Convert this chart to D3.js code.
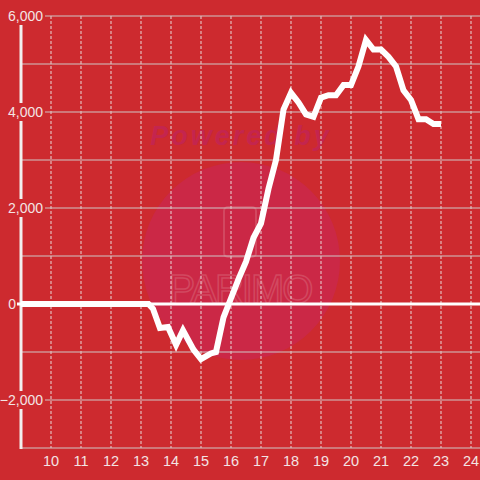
<!DOCTYPE html>
<html>
<head>
<meta charset="utf-8">
<script src="https://cdn.jsdelivr.net/npm/d3@7"></script>
<style>
  html, body { margin: 0; padding: 0; background: #cd2a2f; }
  svg { display: block; }
  text { font-family: "Liberation Sans", Arial, sans-serif; }
</style>
</head>
<body>
<script>
const width = 480;
const height = 480;

// hour of day / cumulative value
const hours = [9, 13.25, 13.4, 13.63, 13.9, 14.17, 14.4, 14.75, 15, 15.33, 15.5,
  15.75, 16, 16.25, 16.5, 16.75, 17, 17.25, 17.5, 17.75, 18, 18.25, 18.5, 18.75,
  19, 19.25, 19.5, 19.75, 20, 20.25, 20.5, 20.75, 21, 21.25, 21.5, 21.75, 22,
  22.25, 22.5, 22.75, 23];
const values = [0, 0, -100, -500, -480, -850, -550, -950, -1150, -1030, -1000,
  -280, 120, 520, 880, 1380, 1680, 2400, 3000, 4050, 4400, 4200, 3950, 3900,
  4300, 4350, 4350, 4560, 4560, 4950, 5500, 5300, 5300, 5150, 4950, 4450, 4250,
  3850, 3850, 3750, 3750];

const xTicks = [10, 11, 12, 13, 14, 15, 16, 17, 18, 19, 20, 21, 22, 23, 24];
const yGrid = [-2000, -1000, 1000, 2000, 3000, 4000, 5000, 6000];
const yLabels = [6000, 4000, 2000, 0, -2000];

const x = d3.scaleLinear().domain([9, 24.3]).range([21, 480]);
const y = d3.scaleLinear().domain([-3000, 6000]).range([448, 16]);

const svg = d3.select('body').append('svg')
  .attr('width', width)
  .attr('height', height);

svg.append('rect').attr('width', width).attr('height', height).attr('fill', '#cd2a2f');

// watermark
const wm = svg.append('g');
wm.append('circle').attr('cx', 241).attr('cy', 261).attr('r', 99).attr('fill', '#cb2846');
wm.append('text')
  .attr('x', 241).attr('y', 145)
  .attr('text-anchor', 'middle')
  .attr('font-size', 27).attr('font-weight', 'bold').attr('font-style', 'italic')
  .attr('letter-spacing', 3)
  .attr('fill', '#c4254e')
  .text('Powered by');
wm.append('rect')
  .attr('x', 224).attr('y', 207).attr('width', 32).attr('height', 50).attr('rx', 4)
  .attr('fill', 'none').attr('stroke', '#d24860').attr('stroke-width', 2);
wm.append('text')
  .attr('x', 240).attr('y', 303)
  .attr('text-anchor', 'middle')
  .attr('font-family', '"DejaVu Sans Mono", monospace')
  .attr('font-size', 40).attr('letter-spacing', -2)
  .attr('fill', 'none').attr('stroke', '#d24860').attr('stroke-width', 1.5)
  .text('PARIMO');

// vertical dashed grid
svg.append('g')
  .selectAll('line')
  .data(xTicks)
  .join('line')
  .attr('x1', (d) => x(d)).attr('x2', (d) => x(d))
  .attr('y1', y(6000)).attr('y2', y(-3000))
  .attr('stroke', '#e8dada')
  .attr('stroke-width', 1)
  .attr('stroke-dasharray', '3,2');

// horizontal grid
svg.append('g')
  .selectAll('line')
  .data(yGrid)
  .join('line')
  .attr('x1', 21).attr('x2', width)
  .attr('y1', (d) => y(d)).attr('y2', (d) => y(d))
  .attr('stroke', '#cfc6c6')
  .attr('stroke-width', 1);

// bottom axis line
svg.append('line')
  .attr('x1', 21).attr('x2', width)
  .attr('y1', y(-3000)).attr('y2', y(-3000))
  .attr('stroke', '#cfc6c6');

// y axis line
svg.append('line')
  .attr('x1', 21).attr('x2', 21)
  .attr('y1', y(6000)).attr('y2', y(-3000) + 1)
  .attr('stroke', '#f2eeee')
  .attr('stroke-width', 3);

// zero line
svg.append('line')
  .attr('x1', 17).attr('x2', width)
  .attr('y1', y(0)).attr('y2', y(0))
  .attr('stroke', '#ffffff')
  .attr('stroke-width', 3);

// y labels with background
const yl = svg.append('g')
  .selectAll('g')
  .data(yLabels)
  .join('g');

yl.filter((d) => d !== 0)
  .append('rect')
  .attr('x', 0).attr('width', 45)
  .attr('y', (d) => y(d) - 9).attr('height', 18)
  .attr('fill', '#cd2a2f');

yl.append('text')
  .attr('x', (d) => d === 0 ? 16 : 43)
  .attr('y', (d) => y(d) + 5)
  .attr('text-anchor', 'end')
  .attr('font-size', 14)
  .attr('fill', '#f3e4e4')
  .text((d) => d3.format(',')(d));

// x labels
svg.append('g')
  .selectAll('text')
  .data(xTicks)
  .join('text')
  .attr('x', (d) => x(d))
  .attr('y', 466)
  .attr('text-anchor', 'middle')
  .attr('font-size', 14.5)
  .attr('fill', '#f3e4e4')
  .text((d) => d);

// series line
const line = d3.line()
  .x((d, i) => x(hours[i]))
  .y((d) => y(d));

svg.append('path')
  .datum(values)
  .attr('d', line)
  .attr('fill', 'none')
  .attr('stroke', '#ffffff')
  .attr('stroke-width', 6)
  .attr('stroke-linejoin', 'miter');
</script>
</body>
</html>
